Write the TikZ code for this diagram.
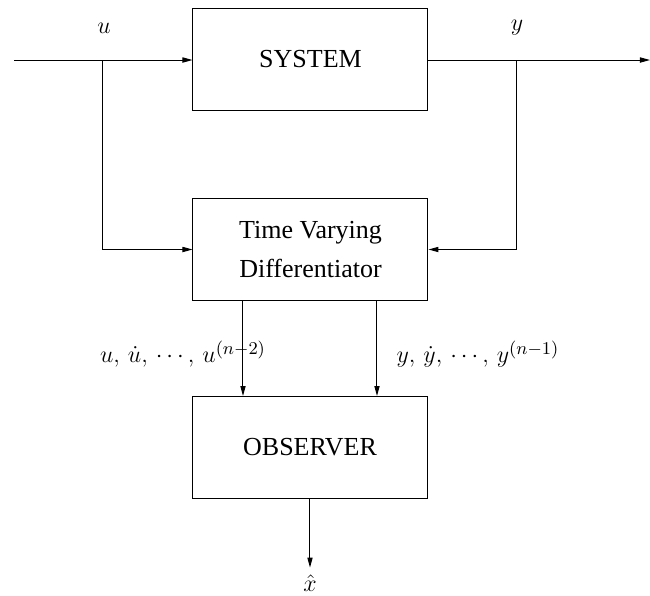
\documentclass[tikz,border=0pt]{standalone}
\usepackage{fontspec}
\setmainfont{Liberation Serif}
\usetikzlibrary{arrows.meta}
\begin{document}
\begin{tikzpicture}[x=0.5pt,y=-0.5pt,
    every node/.style={font=\fontsize{13}{19.5}\selectfont},
    block/.style={draw, line width=0.5pt, minimum width=117.5pt, minimum height=51pt, inner sep=0pt, align=center},
    flow/.style={line width=0.5pt, -{Triangle[length=5pt,width=2.6pt]}},
    wire/.style={line width=0.5pt}]
  \useasboundingbox (0,0) rectangle (650,596);

  % blocks
  \node[block] (sys) at (310.5,59) {SYSTEM};
  \node[block] (tvd) at (310.5,249.5) {Time Varying\\Differentiator};
  \node[block] (obs) at (310,447.5) {OBSERVER};

  % terminals and branch points
  \coordinate (in) at (14,60);
  \coordinate (out) at (650,60);
  \coordinate (ub) at (103,60);
  \coordinate (yb) at (517,60);
  \coordinate (ua) at (243,0);
  \coordinate (ya) at (377,0);
  \node (xhat) at (310,583) {$\hat{x}$};

  % signal labels
  \node at (104,28) {$u$};
  \node at (517,28) {$y$};
  \node at (183,354) {$u,\,\dot{u},\,\cdots,\,u^{(n-2)}$};
  \node at (478,354) {$y,\,\dot{y},\,\cdots,\,y^{(n-1)}$};

  % connectors
  \draw[flow] (in) -- (in -| sys.west);
  \draw[flow] (sys.east |- out) -- (out);
  \draw[flow] (ub) |- (tvd.west);
  \draw[flow] (yb) |- (tvd.east);
  \draw[flow] (tvd.south -| ua) -- (obs.north -| ua);
  \draw[flow] (tvd.south -| ya) -- (obs.north -| ya);
  \draw[flow] (obs.south) -- (xhat.north);
\end{tikzpicture}
\end{document}
